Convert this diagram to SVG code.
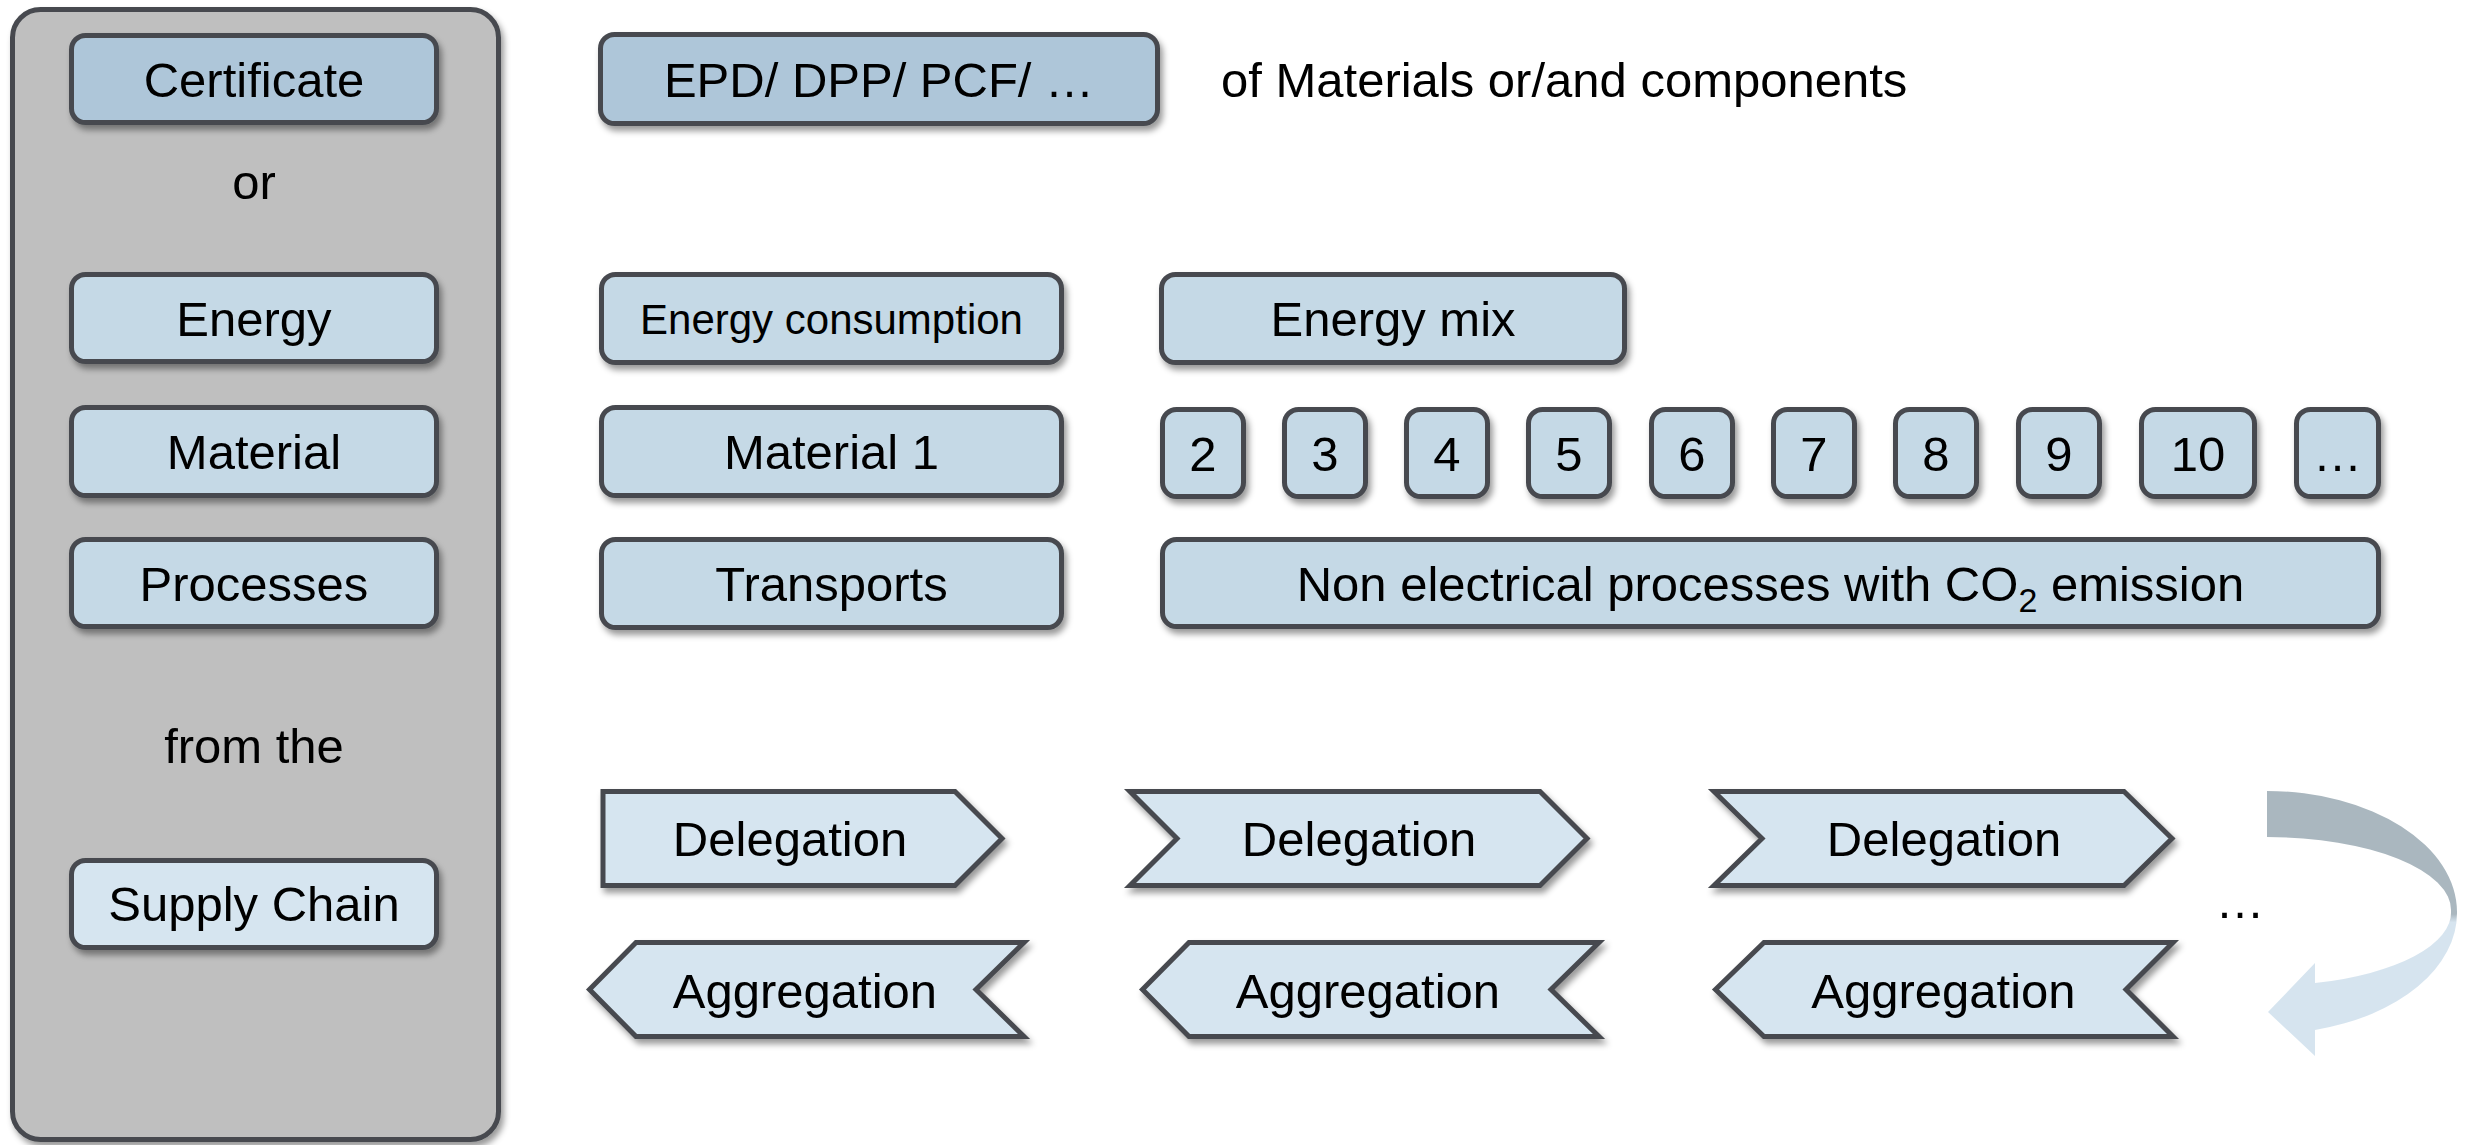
<svg xmlns="http://www.w3.org/2000/svg" width="2471" height="1145" viewBox="0 0 2471 1145">
<defs>
<filter id="sh" x="-10%" y="-20%" width="130%" height="160%">
<feDropShadow dx="3" dy="5" stdDeviation="3" flood-color="#000" flood-opacity="0.4"/>
</filter>
<linearGradient id="arrowGrad" gradientUnits="userSpaceOnUse" x1="0" y1="790" x2="0" y2="1060">
<stop offset="0" stop-color="#aab7bf"/>
<stop offset="0.46" stop-color="#aab7bf"/>
<stop offset="0.49" stop-color="#d6e4ef"/>
<stop offset="1" stop-color="#d6e4ef"/>
</linearGradient>
</defs>
<style>
.panel{fill:#bfbfbf;stroke:#474a4f;stroke-width:5;filter:url(#sh)}
.b{stroke:#474a4f;stroke-width:5;filter:url(#sh)}
.dark{fill:#aec6d9}
.mid{fill:#c5d9e6}
.light{fill:#d6e5f0}
.t{font-family:"Liberation Sans",Arial,sans-serif;font-size:49px;fill:#000;text-anchor:middle}
.s{font-size:42px}
.l{text-anchor:start}
</style>
<rect width="2471" height="1145" fill="#ffffff"/>

<g id="panel">
<rect class="panel" x="12.5" y="9.5" width="486" height="1130" rx="28"/>
<text class="t" x="254" y="199">or</text>
<text class="t" x="254" y="763">from the</text>
</g>

<g id="certificate">
<rect class="b dark" x="71.5" y="35.5" width="365" height="87" rx="14"/>
<text class="t" x="254" y="96.5">Certificate</text>
</g>
<g id="energy">
<rect class="b mid" x="71.5" y="274.5" width="365" height="87" rx="14"/>
<text class="t" x="254" y="335.5">Energy</text>
</g>
<g id="material">
<rect class="b mid" x="71.5" y="407.5" width="365" height="88" rx="14"/>
<text class="t" x="254" y="469">Material</text>
</g>
<g id="processes">
<rect class="b mid" x="71.5" y="539.5" width="365" height="87" rx="14"/>
<text class="t" x="254" y="600.5">Processes</text>
</g>
<g id="supply-chain">
<rect class="b light" x="71.5" y="860.5" width="365" height="87" rx="14"/>
<text class="t" x="254" y="921">Supply Chain</text>
</g>

<g id="epd">
<rect class="b dark" x="600.5" y="34.5" width="557" height="89" rx="14"/>
<text class="t" x="879" y="96.5">EPD/ DPP/ PCF/ …</text>
</g>
<g id="epd-note">
<text class="t l" x="1221" y="96.5">of Materials or/and components</text>
</g>

<g id="energy-consumption">
<rect class="b mid" x="601.5" y="274.5" width="460" height="88" rx="14"/>
<text class="t s" x="831.5" y="333.5">Energy consumption</text>
</g>
<g id="energy-mix">
<rect class="b mid" x="1161.5" y="274.5" width="463" height="88" rx="14"/>
<text class="t" x="1393" y="336">Energy mix</text>
</g>
<g id="material-1">
<rect class="b mid" x="601.5" y="407.5" width="460" height="88" rx="14"/>
<text class="t" x="831.5" y="469">Material 1</text>
</g>
<g id="m2"><rect class="b mid" x="1162.5" y="409.5" width="81" height="87" rx="14"/><text class="t" x="1203" y="470.5">2</text></g>
<g id="m3"><rect class="b mid" x="1284.5" y="409.5" width="81" height="87" rx="14"/><text class="t" x="1325" y="470.5">3</text></g>
<g id="m4"><rect class="b mid" x="1406.5" y="409.5" width="81" height="87" rx="14"/><text class="t" x="1447" y="470.5">4</text></g>
<g id="m5"><rect class="b mid" x="1528.5" y="409.5" width="81" height="87" rx="14"/><text class="t" x="1569" y="470.5">5</text></g>
<g id="m6"><rect class="b mid" x="1651.5" y="409.5" width="81" height="87" rx="14"/><text class="t" x="1692" y="470.5">6</text></g>
<g id="m7"><rect class="b mid" x="1773.5" y="409.5" width="81" height="87" rx="14"/><text class="t" x="1814" y="470.5">7</text></g>
<g id="m8"><rect class="b mid" x="1895.5" y="409.5" width="81" height="87" rx="14"/><text class="t" x="1936" y="470.5">8</text></g>
<g id="m9"><rect class="b mid" x="2018.5" y="409.5" width="81" height="87" rx="14"/><text class="t" x="2059" y="470.5">9</text></g>
<g id="m10"><rect class="b mid" x="2141.5" y="409.5" width="113" height="87" rx="14"/><text class="t" x="2198" y="470.5">10</text></g>
<g id="m-more"><rect class="b mid" x="2296.5" y="409.5" width="82" height="87" rx="14"/><text class="t" x="2337.5" y="470.5">…</text></g>

<g id="transports">
<rect class="b mid" x="601.5" y="539.5" width="460" height="88" rx="14"/>
<text class="t" x="831.5" y="601">Transports</text>
</g>
<g id="non-electrical">
<rect class="b mid" x="1162.5" y="539.5" width="1216" height="87" rx="14"/>
<text class="t" x="1770.5" y="600.5">Non electrical processes with CO<tspan font-size="34" dy="11">2</tspan><tspan dy="-11"> emission</tspan></text>
</g>

<g id="delegation-1">
<path class="b light" d="M603,791.5 L955,791.5 L1002,838.5 L955,885.5 L603,885.5 Z"/>
<text class="t" x="790" y="856">Delegation</text>
</g>
<g id="delegation-2">
<path class="b light" d="M1130,791.5 L1540,791.5 L1587,838.5 L1540,885.5 L1130,885.5 L1177,838.5 Z"/>
<text class="t" x="1359" y="856">Delegation</text>
</g>
<g id="delegation-3">
<path class="b light" d="M1714,791.5 L2124,791.5 L2172,838.5 L2124,885.5 L1714,885.5 L1762,838.5 Z"/>
<text class="t" x="1944" y="856">Delegation</text>
</g>
<g id="aggregation-1">
<path class="b light" d="M589.5,989.5 L636,942.5 L1024,942.5 L976,989.5 L1024,1036.5 L636,1036.5 Z"/>
<text class="t" x="805" y="1008">Aggregation</text>
</g>
<g id="aggregation-2">
<path class="b light" d="M1142.5,989.5 L1189,942.5 L1599,942.5 L1551,989.5 L1599,1036.5 L1189,1036.5 Z"/>
<text class="t" x="1368" y="1008">Aggregation</text>
</g>
<g id="aggregation-3">
<path class="b light" d="M1715.5,989.5 L1764,942.5 L2173,942.5 L2126,989.5 L2173,1036.5 L1764,1036.5 Z"/>
<text class="t" x="1943.5" y="1008">Aggregation</text>
</g>

<g id="continuation">
<text class="t" x="2240" y="918">…</text>
</g>

<g id="connectors">
<path fill="url(#arrowGrad)" d="M2267,791 A190,121 0 0 1 2457,912 A190,121 0 0 1 2315,1030 L2315,1056 L2268,1012 L2315,963 L2315,983 A184,73 0 0 0 2451,911 A184,73 0 0 0 2267,837 Z"/>
</g>
</svg>
